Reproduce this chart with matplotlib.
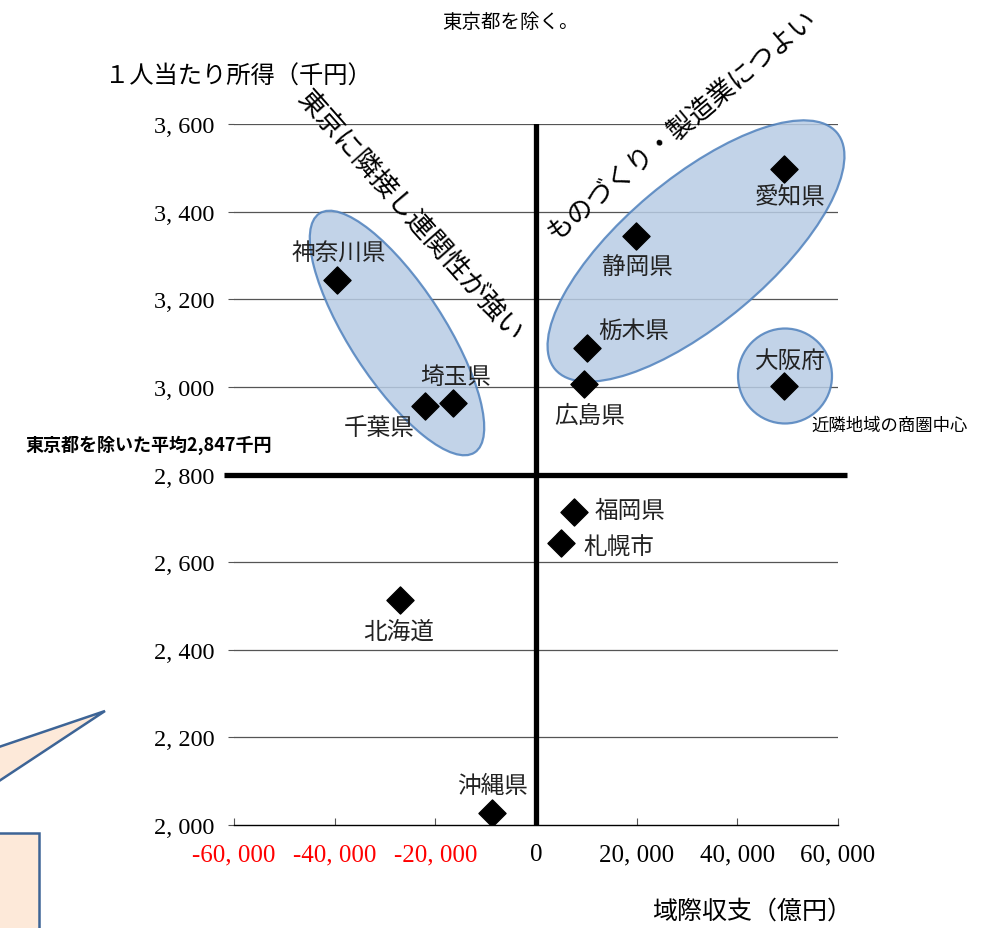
import matplotlib
matplotlib.use("Agg")
import matplotlib.pyplot as plt
from matplotlib.patches import Ellipse, Polygon, Rectangle

plt.rcParams['font.family'] = ['Noto Sans CJK JP', 'DejaVu Sans']

# data (域際収支 億円, 1人当たり所得 千円)
names = ['神奈川県', '埼玉県', '千葉県', '愛知県', '静岡県', '栃木県',
         '広島県', '大阪府', '福岡県', '札幌市', '北海道', '沖縄県']
balance = [-39500, -16500, -22000, 49300, 19900, 10100,
           9500, 49300, 7500, 5000, -27000, -8700]
income = [3245, 2963, 2956, 3498, 3345, 3089,
          3007, 3002, 2715, 2644, 2514, 2027]
# label offsets in pixels (dx, dy up)
offsets = [(2, 27), (3, 27), (-46, -21), (6, -28), (1, -31), (47, 18),
           (6, -32), (6, 26), (56, 1), (58, -4), (-1, -31), (0, 28)]

xticks = [-60000, -40000, -20000, 0, 20000, 40000, 60000]
yticks = [2000, 2200, 2400, 2600, 2800, 3000, 3200, 3400, 3600]
avg_line = 2800

W, H = 995, 929
fig = plt.figure(figsize=(W / 100, H / 100), dpi=100)
ax = fig.add_axes([234 / W, 1 - 826 / H, (838 - 234) / W, (826 - 125) / H])

def inch(x, y):
    return (x / 100, (H - y) / 100)

# grid + axes
for y in yticks[1:]:
    ax.axhline(y, color='#555555', lw=0.9, zorder=1)
ax.set_xlim(-60000, 60000)
ax.set_ylim(2000, 3600)
for s in ['top', 'right', 'left']:
    ax.spines[s].set_visible(False)
ax.spines['bottom'].set_color('black')
ax.spines['bottom'].set_linewidth(1.0)
ax.set_xticks(xticks)
ax.set_yticks(yticks)
ax.tick_params(axis='x', direction='in', length=5, color='#555555', pad=13)
ax.tick_params(axis='y', direction='out', length=4, color='#555555', pad=10)
ax.set_xticklabels([f"{v:,}".replace(",", ", ") for v in xticks],
                   fontfamily='Liberation Serif', fontsize=18)
ax.set_yticklabels([f"{v:,}".replace(",", ", ") for v in yticks],
                   fontfamily='Liberation Serif', fontsize=17.5)
for lab, v in zip(ax.get_xticklabels(), xticks):
    lab.set_color('red' if v < 0 else 'black')

# thick quadrant lines
ax.axvline(0, color='black', lw=3.8, zorder=3)
ax.plot([-62000, 61800], [avg_line, avg_line], color='black', lw=3.8,
        clip_on=False, zorder=3, solid_capstyle='butt')

# ellipses (group highlights)
ell_style = dict(facecolor='#b8cce4', edgecolor='#4f81bd', lw=1.6, alpha=0.85,
                 transform=fig.dpi_scale_trans, clip_on=False, zorder=2)
ax.add_patch(Ellipse(inch(397, 334), 285 / 100, 95 / 100, angle=-57, **ell_style))
ax.add_patch(Ellipse(inch(696, 252), 368 / 100, 145 / 100, angle=40, **ell_style))
ax.add_patch(Ellipse(inch(785, 377), 94 / 100, 95 / 100, angle=0, **ell_style))

# points
ax.scatter(balance, income, marker='D', s=190, color='black', zorder=5)
for n, x, y, (dx, dy) in zip(names, balance, income, offsets):
    ax.annotate(n, (x, y), xytext=(dx * 0.72, dy * 0.72), textcoords='offset points',
                ha='center', va='center', fontsize=17, color='#222222', zorder=6)

# texts
fig.text(510 / W, 1 - 22 / H, '東京都を除く。', ha='center', va='center', fontsize=14)
fig.text(105 / W, 1 - 77 / H, '１人当たり所得（千円）', ha='left', va='center', fontsize=17.5)
fig.text(752 / W, 1 - 912 / H, '域際収支（億円）', ha='center', va='center', fontsize=18)
fig.text(25 / W, 1 - 445 / H, '東京都を除いた平均2,847千円', ha='left', va='center',
         fontsize=13, fontweight='bold')
fig.text(890 / W, 1 - 426 / H, '近隣地域の商圏中心', ha='center', va='center', fontsize=12.5)
fig.text(410 / W, 1 - 216 / H, '東京に隣接し連関性が強い', ha='center', va='center',
         fontsize=19.5, rotation=-48.5, rotation_mode='anchor')
fig.text(682 / W, 1 - 125 / H, 'ものづくり・製造業につよい', ha='center', va='center',
         fontsize=19, rotation=40, rotation_mode='anchor')

# callout shape at lower-left
call_style = dict(facecolor='#fde9d9', edgecolor='#3d6496', lw=1.8,
                  transform=fig.dpi_scale_trans, clip_on=False)
fig.add_artist(Polygon([inch(-10, 751), inch(105, 712), inch(-10, 788)], closed=True, **call_style))
fig.add_artist(Rectangle(inch(-10, 945), 49 / 100, (945 - 834) / 100, **call_style))

fig.savefig('out.png', dpi=100)
